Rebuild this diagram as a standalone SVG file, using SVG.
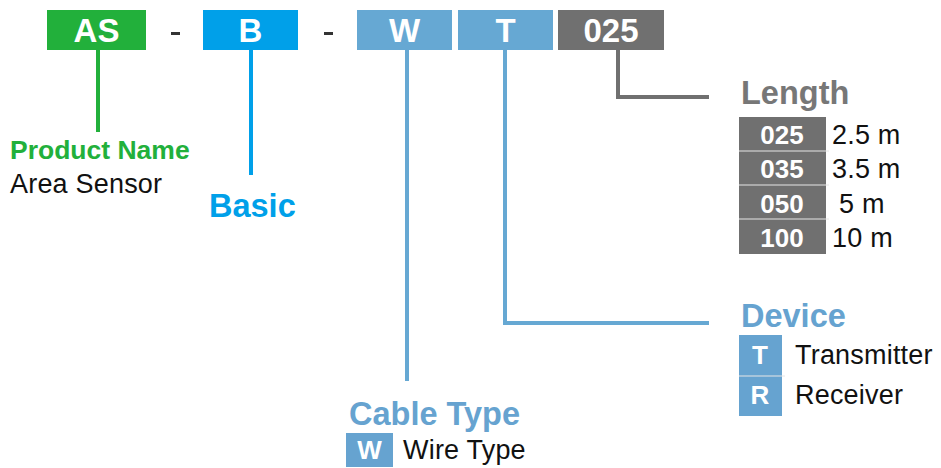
<svg xmlns="http://www.w3.org/2000/svg" width="941" height="468" viewBox="0 0 941 468">
<style>
text{font-family:"Liberation Sans",Arial,sans-serif}
.code{font-weight:bold;font-size:33px;fill:#fff;text-anchor:middle}
.title{font-weight:bold;font-size:32.5px}
.cell{font-weight:bold;font-size:26px;fill:#fff;text-anchor:middle}
.desc{font-size:27px;fill:#111;letter-spacing:0.2px}
.ln{fill:none;stroke-width:4}
.sep{stroke:#e6e6e6;stroke-width:1}
</style>
<rect width="941" height="468" fill="#fff"/>
<g id="code-AS"><rect x="47" y="10" width="99" height="40" fill="#22B03B"/><text class="code" x="96.5" y="42">AS</text></g>
<g id="dash1"><rect x="171" y="32" width="9" height="3" fill="#333"/></g>
<g id="code-B"><rect x="203" y="10" width="95" height="40" fill="#00A0E9"/><text class="code" x="250.5" y="42">B</text></g>
<g id="dash2"><rect x="324" y="32" width="9" height="3" fill="#333"/></g>
<g id="code-W"><rect x="357" y="10" width="95" height="40" fill="#66A8D3"/><text class="code" x="404.5" y="42">W</text></g>
<g id="code-T"><rect x="458" y="10" width="95" height="40" fill="#66A8D3"/><text class="code" x="505.5" y="42">T</text></g>
<g id="code-025"><rect x="558" y="10" width="106" height="40" fill="#707070"/><text class="code" x="611" y="42">025</text></g>
<g id="connectors">
<path class="ln" stroke="#22B03B" d="M98 50V132"/>
<path class="ln" stroke="#00A0E9" d="M251 50V175"/>
<path class="ln" stroke="#66A8D3" d="M407 50V381"/>
<path class="ln" stroke="#66A8D3" d="M505 50V323H709"/>
<path class="ln" stroke="#707070" d="M618 50V97H709"/>
</g>
<g id="product-name">
<text x="10" y="159" font-weight="bold" font-size="26.5" fill="#22B03B">Product Name</text>
<text class="desc" x="10" y="193">Area Sensor</text>
</g>
<g id="basic"><text class="title" x="209" y="217" fill="#00A0E9">Basic</text></g>
<g id="length">
<text class="title" x="741" y="104" fill="#777">Length</text>
<rect x="739" y="117" width="87" height="137" fill="#707070"/>
<line class="sep" x1="739" y1="151" x2="829" y2="151"/>
<line class="sep" x1="739" y1="185" x2="829" y2="185"/>
<line class="sep" x1="739" y1="219" x2="829" y2="219"/>
<text class="cell" x="782" y="144">025</text>
<text class="cell" x="782" y="178">035</text>
<text class="cell" x="782" y="213">050</text>
<text class="cell" x="782" y="247">100</text>
<text class="desc" x="832" y="144">2.5 m</text>
<text class="desc" x="832" y="178">3.5 m</text>
<text class="desc" x="839" y="213">5 m</text>
<text class="desc" x="832" y="247">10 m</text>
</g>
<g id="device">
<text class="title" x="741" y="327" fill="#66A3D0">Device</text>
<rect x="739" y="335" width="43" height="81" fill="#66A3D0"/>
<line class="sep" x1="739" y1="376" x2="785" y2="376"/>
<text class="cell" x="760" y="364">T</text>
<text class="cell" x="760" y="404">R</text>
<text class="desc" x="795" y="364">Transmitter</text>
<text class="desc" x="795" y="404">Receiver</text>
</g>
<g id="cable-type">
<text class="title" x="349" y="425" fill="#66A3D0">Cable Type</text>
<rect x="346" y="433" width="47" height="34" fill="#66A3D0"/>
<text class="cell" x="369.5" y="459">W</text>
<text class="desc" x="403" y="459">Wire Type</text>
</g>
</svg>
